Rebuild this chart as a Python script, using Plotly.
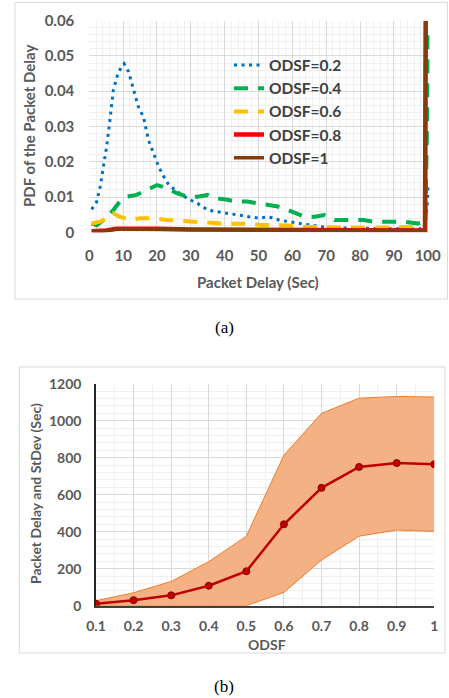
import plotly.graph_objects as go

W, H = 449, 698

# ---------------- (a) PDF of packet delay ----------------
x_02 = [0.7, 2.2, 3.2, 4.2, 5.1, 6.1, 7.1, 8.6, 10.3, 11.6, 13, 14.5, 16, 17.5, 19, 20.5,
        22, 23.5, 26, 29, 32, 35, 38, 41, 44, 47, 50, 53, 56, 59, 62, 65, 68.5, 72.5,
        80, 90, 99.2, 100.3]
y_02 = [0.0065, 0.0087, 0.0129, 0.0186, 0.0242, 0.0318, 0.0403, 0.0455, 0.0478, 0.0455,
        0.0408, 0.0356, 0.0327, 0.0261, 0.0224, 0.0186, 0.0158, 0.0134, 0.0115, 0.0096,
        0.0082, 0.0063, 0.0058, 0.0054, 0.0049, 0.0044, 0.0040, 0.0044, 0.0035, 0.0030,
        0.0025, 0.0021, 0.0016, 0.0013, 0.0011, 0.0010, 0.0010, 0.0128]

x_04 = [0.7, 2.2, 4.2, 7.1, 9, 11, 14, 17, 20, 23, 26, 29, 32, 35, 37.8, 40.8, 43.8, 46.7,
        49.7, 52.7, 55.7, 58.7, 60.7, 63.6, 66.6, 69.5, 72.5, 75.5, 78.5, 81, 84, 87, 90,
        93, 97, 99.3, 100.3]
y_04 = [0.0025, 0.0020, 0.0035, 0.0063, 0.0087, 0.0101, 0.0106, 0.0120, 0.0134, 0.0125,
        0.0110, 0.0101, 0.0101, 0.0106, 0.0096, 0.0092, 0.0087, 0.0087, 0.0082, 0.0077,
        0.0073, 0.0063, 0.0054, 0.0044, 0.0044, 0.0049, 0.0035, 0.0035, 0.0035, 0.0035,
        0.0030, 0.0030, 0.0030, 0.0030, 0.0025, 0.0030, 0.0574]

x_06 = [0.7, 3.2, 5.1, 7.1, 9, 12, 15, 19, 23, 27, 31, 35, 39, 43, 47, 51, 55, 59, 63, 67,
        71, 75, 79, 83, 87, 91, 95, 99.2]
y_06 = [0.0025, 0.0030, 0.0040, 0.0054, 0.0044, 0.0035, 0.0040, 0.0040, 0.0035, 0.0032,
        0.0030, 0.0027, 0.0025, 0.0024, 0.0024, 0.0021, 0.0021, 0.0019, 0.0016, 0.0016,
        0.0014, 0.0013, 0.0014, 0.0013, 0.0013, 0.0014, 0.0015, 0.0016]

x_08 = [0.7, 5, 8, 12, 20, 30, 40, 50, 60, 70, 80, 90, 99.2, 99.4]
y_08 = [0.0003, 0.0005, 0.0010, 0.0009, 0.0010, 0.0008, 0.0008, 0.0007, 0.0006, 0.0006,
        0.0008, 0.0006, 0.0005, 0.0600]

x_10 = [0.7, 4, 8, 15, 25, 40, 55, 70, 85, 99.2, 99.4]
y_10 = [0.0002, 0.0003, 0.0009, 0.0009, 0.0008, 0.0007, 0.0007, 0.0006, 0.0007, 0.0006,
        0.0600]

a_xticks = [0, 10, 20, 30, 40, 50, 60, 70, 80, 90, 100]
a_xlabels = ["0", "10", "20", "30", "40", "50", "60", "70", "80", "90", "100"]
a_yticks = [0, 0.01, 0.02, 0.03, 0.04, 0.05, 0.06]
a_ylabels = ["0", "0.01", "0.02", "0.03", "0.04", "0.05", "0.06"]

# ---------------- (b) mean delay and stdev band ----------------
odsf = [0.1, 0.2, 0.3, 0.4, 0.5, 0.6, 0.7, 0.8, 0.9, 1.0]
mean_delay = [11, 30, 56, 108, 186, 440, 637, 750, 771, 765]
upper_band = [27, 70, 131, 238, 376, 814, 1040, 1122, 1131, 1128]
lower_band = [0, 0, 0, 0, 0, 72, 247, 376, 409, 402]

b_xticks = [0.1, 0.2, 0.3, 0.4, 0.5, 0.6, 0.7, 0.8, 0.9, 1.0]
b_xlabels = ["0.1", "0.2", "0.3", "0.4", "0.5", "0.6", "0.7", "0.8", "0.9", "1"]
b_yticks = [0, 200, 400, 600, 800, 1000, 1200]
b_ylabels = ["0", "200", "400", "600", "800", "1000", "1200"]

FONT = "Lato"
GRAY = "#595959"
MAJ = "#D9D9D9"
MIN = "#F0F0F0"


def px_x(p):
    return p / W


def px_y(p):
    return 1 - p / H


fig = go.Figure()

series = [
    (x_02, y_02, "ODSF=0.2", "#0070C0", 3, "3px,4.5px"),
    (x_04, y_04, "ODSF=0.4", "#00B050", 4, "14px,10px"),
    (x_06, y_06, "ODSF=0.6", "#FFC000", 4, "14px,10px"),
    (x_08, y_08, "ODSF=0.8", "#FF0000", 4.5, "solid"),
    (x_10, y_10, "ODSF=1", "#843C0C", 3.5, "solid"),
]
for xs, ys, name, col, w, dash in series:
    fig.add_trace(go.Scatter(x=xs, y=ys, name=name, mode="lines",
                             line=dict(color=col, width=w, dash=dash),
                             xaxis="x", yaxis="y"))

fig.add_trace(go.Scatter(x=odsf, y=lower_band, mode="lines", showlegend=False,
                         line=dict(color="#ED7D31", width=1), xaxis="x2", yaxis="y2"))
fig.add_trace(go.Scatter(x=odsf, y=upper_band, mode="lines", showlegend=False,
                         fill="tonexty", fillcolor="#F4B183",
                         line=dict(color="#ED7D31", width=1), xaxis="x2", yaxis="y2"))
fig.add_trace(go.Scatter(x=odsf, y=mean_delay, mode="lines+markers", showlegend=False,
                         line=dict(color="#C00000", width=2.5),
                         marker=dict(color="#C00000", size=7,
                                     line=dict(color="#8B0000", width=1)),
                         xaxis="x2", yaxis="y2"))

tickfont_a = dict(family=FONT, size=15, color=GRAY, weight="bold")
tickfont_b = dict(family=FONT, size=14, color=GRAY, weight="bold")

fig.update_layout(
    template="none",
    width=W, height=H, margin=dict(l=0, r=0, t=0, b=0, pad=0, autoexpand=False),
    paper_bgcolor="white", plot_bgcolor="white",
    showlegend=True,
    legend=dict(x=px_x(229), y=px_y(48.5), xanchor="left", yanchor="top",
                bgcolor="rgba(0,0,0,0)", borderwidth=0, traceorder="normal",
                font=dict(family=FONT, size=15.5, color="#404040", weight="bold"),
                itemwidth=30, tracegroupgap=0),
    xaxis=dict(domain=[px_x(89.3), px_x(429.4)], range=[0, 100.5],
               tickmode="array", tickvals=a_xticks, ticktext=a_xlabels,
               tickfont=tickfont_a, ticks="outside", ticklen=10,
               tickcolor="rgba(0,0,0,0)", showgrid=True, gridcolor=MAJ,
               gridwidth=1, zeroline=False, showline=False, automargin=False,
               minor=dict(tickmode="linear", tick0=0, dtick=2, showgrid=True,
                          gridcolor=MIN, gridwidth=1),
               anchor="y", fixedrange=True),
    yaxis=dict(domain=[px_y(232.3), px_y(20.7)], range=[0, 0.06],
               tickmode="array", tickvals=a_yticks, ticktext=a_ylabels,
               tickfont=tickfont_a, ticks="outside", ticklen=11,
               tickcolor="rgba(0,0,0,0)", showgrid=True, gridcolor=MAJ,
               gridwidth=1, zeroline=False, showline=False, automargin=False,
               minor=dict(tickmode="linear", tick0=0, dtick=0.002, showgrid=True,
                          gridcolor=MIN, gridwidth=1),
               anchor="x", fixedrange=True),
    xaxis2=dict(domain=[px_x(96), px_x(434.3)], range=[0.1, 1.0],
                tickmode="array", tickvals=b_xticks, ticktext=b_xlabels,
                tickfont=tickfont_b, ticks="outside", ticklen=7,
                tickcolor="rgba(0,0,0,0)", showgrid=True, gridcolor=MAJ,
                gridwidth=1, zeroline=False, showline=True, linecolor="#404040",
                linewidth=1.5, automargin=False,
                minor=dict(tickmode="linear", tick0=0.05, dtick=0.05, showgrid=True,
                           gridcolor=MIN, gridwidth=1),
                anchor="y2", fixedrange=True),
    yaxis2=dict(domain=[px_y(605.7), px_y(383.7)], range=[0, 1200],
                tickmode="array", tickvals=b_yticks, ticktext=b_ylabels,
                tickfont=tickfont_b, ticks="outside", ticklen=10,
                tickcolor="rgba(0,0,0,0)", showgrid=True, gridcolor=MAJ,
                gridwidth=1, zeroline=False, showline=True, linecolor="#262626",
                linewidth=1.5, automargin=False,
                minor=dict(tickmode="linear", tick0=0, dtick=40, showgrid=True,
                           gridcolor=MIN, gridwidth=1),
                anchor="x2", fixedrange=True),
    shapes=[
        dict(type="rect", xref="paper", yref="paper",
             x0=px_x(15), x1=px_x(447.5), y0=px_y(299), y1=px_y(2.3),
             line=dict(color="#D9D9D9", width=1), fillcolor="rgba(0,0,0,0)", layer="below"),
        dict(type="rect", xref="paper", yref="paper",
             x0=px_x(19.3), x1=px_x(445), y0=px_y(653), y1=px_y(367),
             line=dict(color="#D9D9D9", width=1), fillcolor="rgba(0,0,0,0)", layer="below"),
    ],
    annotations=[
        dict(text="Packet Delay (Sec)", xref="paper", yref="paper",
             x=px_x(258), y=px_y(282), xanchor="center", yanchor="middle",
             showarrow=False, font=dict(family=FONT, size=15, color=GRAY, weight="bold")),
        dict(text="PDF of the Packet Delay", xref="paper", yref="paper",
             x=px_x(29), y=px_y(126), xanchor="center", yanchor="middle", textangle=-90,
             showarrow=False, font=dict(family=FONT, size=15, color=GRAY, weight="bold")),
        dict(text="ODSF", xref="paper", yref="paper",
             x=px_x(267), y=px_y(644), xanchor="center", yanchor="middle",
             showarrow=False, font=dict(family=FONT, size=14, color=GRAY, weight="bold")),
        dict(text="Packet Delay and StDev (Sec)", xref="paper", yref="paper",
             x=px_x(35), y=px_y(494), xanchor="center", yanchor="middle", textangle=-90,
             showarrow=False, font=dict(family=FONT, size=14, color=GRAY, weight="bold")),
        dict(text="(a)", xref="paper", yref="paper",
             x=px_x(224), y=px_y(327), xanchor="center", yanchor="middle",
             showarrow=False, font=dict(family="Liberation Serif", size=17, color="black")),
        dict(text="(b)", xref="paper", yref="paper",
             x=px_x(224), y=px_y(686), xanchor="center", yanchor="middle",
             showarrow=False, font=dict(family="Liberation Serif", size=17, color="black")),
    ],
)

fig.write_html("out.html")
